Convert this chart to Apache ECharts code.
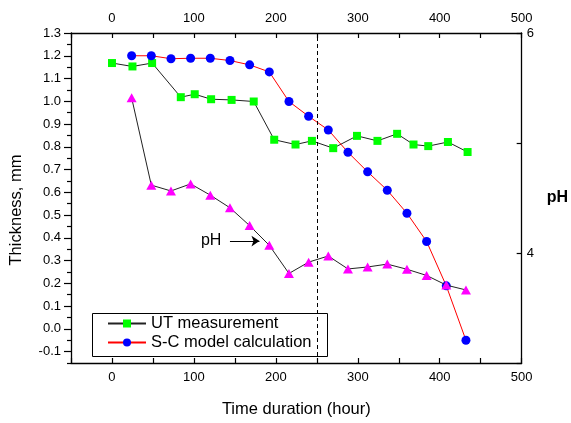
<!DOCTYPE html>
<html>
<head>
<meta charset="utf-8">
<script src="https://cdn.jsdelivr.net/npm/echarts@6/dist/echarts.min.js"></script>
<style>html,body{margin:0;padding:0;background:#fff;}#c{width:571px;height:423px;}</style>
</head>
<body>
<div id="c"></div>
<script>
// ---- data ----
const utHours = [0, 25, 49, 84, 101, 121, 146, 173, 198, 224, 244, 270, 299, 324, 348, 368, 386, 410, 434];
const utThickness = [1.168, 1.153, 1.168, 1.018, 1.031, 1.009, 1.006, 0.999, 0.831, 0.810, 0.826, 0.794, 0.848, 0.826, 0.857, 0.810, 0.803, 0.821, 0.777];
const modelHours = [24, 48, 72, 96, 120, 144, 168, 192, 216, 240, 264, 288, 312, 336, 360, 384, 408, 432];
const modelThickness = [1.200, 1.200, 1.187, 1.189, 1.189, 1.179, 1.160, 1.129, 0.999, 0.934, 0.874, 0.776, 0.690, 0.609, 0.508, 0.384, 0.189, -0.050];
const phValues = [5.411, 4.617, 4.564, 4.628, 4.526, 4.411, 4.249, 4.070, 3.814, 3.917, 3.973, 3.855, 3.873, 3.899, 3.852, 3.796, 3.708, 3.664];
const thicknessTicks = [-0.1, 0.0, 0.1, 0.2, 0.3, 0.4, 0.5, 0.6, 0.7, 0.8, 0.9, 1.0, 1.1, 1.2, 1.3];
const thicknessMinorTicks = [-0.15, -0.05, 0.05, 0.15, 0.25, 0.35, 0.45, 0.55, 0.65, 0.75, 0.85, 0.95, 1.05, 1.15, 1.25];
const hourLabels = [0, 100, 200, 300, 400, 500];
const phLabels = [4, 6];
const markerHour = 250;
const arrowStart = [144, 4.108];
const arrowEnd = [180, 4.108];
const arrowText = [121, 4.11];

const FONT = '"Liberation Sans", Arial, sans-serif';
const pair = (xs, ys) => xs.map((x, i) => [x, ys[i]]);

const chart = echarts.init(document.getElementById('c'), null, {renderer: 'canvas'});
const xCommon = {
  type: 'value', min: -50, max: 500, interval: 50,
  axisLine: {show: true, onZero: false, lineStyle: {color: '#000', width: 1.3}},
  axisTick: {show: true, inside: true, length: 5, lineStyle: {color: '#000', width: 1.2}},
  axisLabel: {
    color: '#000', fontSize: 13, fontFamily: FONT, margin: 8,
    formatter: v => hourLabels.indexOf(v) >= 0 ? String(v) : ''
  },
  splitLine: {show: false}
};
chart.setOption({
  animation: false,
  backgroundColor: '#fff',
  textStyle: {fontFamily: FONT},
  grid: {left: 70, right: 38, top: 33, bottom: 51, containLabel: false},
  xAxis: [
    Object.assign({}, xCommon, {
      position: 'bottom',
      name: 'Time duration (hour)', nameLocation: 'middle', nameGap: 38,
      nameTextStyle: {color: '#000', fontSize: 16.5, fontFamily: FONT}
    }),
    Object.assign({}, xCommon, {position: 'top'})
  ],
  yAxis: [
    {
      type: 'value', position: 'left', min: -0.15, max: 1.3,
      name: 'Thickness, mm', nameLocation: 'middle', nameGap: 46,
      nameTextStyle: {color: '#000', fontSize: 16.5, fontFamily: FONT, padding: [0, 24, 0, 0]},
      axisLine: {show: true, onZero: false, lineStyle: {color: '#000', width: 1.3}},
      axisTick: {show: true, inside: false, length: 7, customValues: thicknessTicks, lineStyle: {color: '#000', width: 1.2}},
      axisLabel: {color: '#000', fontSize: 13, fontFamily: FONT, margin: 10, customValues: thicknessTicks,
        formatter: v => v.toFixed(1)},
      splitLine: {show: false}
    },
    {
      type: 'value', position: 'right', min: 3, max: 6, interval: 1,
      name: 'pH', nameLocation: 'middle', nameGap: 25, nameRotate: 0,
      nameTextStyle: {color: '#000', fontSize: 16, fontWeight: 'bold', fontFamily: FONT},
      axisLine: {show: true, onZero: false, lineStyle: {color: '#000', width: 1.3}},
      axisTick: {show: true, inside: true, length: 5, lineStyle: {color: '#000', width: 1.2}},
      axisLabel: {color: '#000', fontSize: 13, fontFamily: FONT, margin: 5,
        formatter: v => phLabels.indexOf(v) >= 0 ? String(v) : ''},
      splitLine: {show: false}
    },
    {
      type: 'value', position: 'left', min: -0.15, max: 1.3,
      axisLine: {show: false, onZero: false},
      axisTick: {show: true, inside: false, length: 4, customValues: thicknessMinorTicks, lineStyle: {color: '#000', width: 1.2}},
      axisLabel: {show: false},
      splitLine: {show: false}
    }
  ],
  legend: {
    orient: 'vertical', left: 90, top: 311,
    padding: [3, 10, 2, 17], itemGap: 0,
    itemWidth: 38, itemHeight: 10,
    borderWidth: 0,
    textStyle: {color: '#000', fontSize: 16.5, fontFamily: FONT, lineHeight: 19},
    data: ['UT measurement', 'S-C model calculation']
  },
  graphic: [{
    type: 'rect', left: 90, top: 311, silent: true, z: 10,
    shape: {width: 235, height: 43},
    style: {fill: 'none', stroke: '#000', lineWidth: 1}
  }],
  series: [
    {
      name: 'UT measurement', type: 'line', xAxisIndex: 0, yAxisIndex: 0,
      data: pair(utHours, utThickness),
      symbol: 'rect', symbolSize: 8,
      itemStyle: {color: '#00ff00'},
      lineStyle: {color: '#222', width: 1},
      z: 3,
      markLine: {
        silent: true, symbol: ['none', 'none'], label: {show: false},
        lineStyle: {type: [4, 3], color: '#000', width: 1},
        data: [{xAxis: markerHour}]
      }
    },
    {
      name: 'S-C model calculation', type: 'line', xAxisIndex: 0, yAxisIndex: 0,
      data: pair(modelHours, modelThickness),
      symbol: 'circle', symbolSize: 9,
      itemStyle: {color: '#0000ff'},
      lineStyle: {color: '#ff0000', width: 1},
      z: 4
    },
    {
      name: 'pH', type: 'line', xAxisIndex: 0, yAxisIndex: 1,
      data: pair(modelHours, phValues),
      symbol: 'triangle', symbolSize: [10, 9],
      itemStyle: {color: '#ff00ff'},
      lineStyle: {color: '#222', width: 1},
      z: 5,
      markLine: {
        silent: true, symbol: ['none', 'arrow'], symbolSize: 8,
        label: {show: false},
        lineStyle: {type: 'solid', color: '#000', width: 1},
        data: [[{coord: arrowStart}, {coord: arrowEnd}]]
      },
      markPoint: {
        silent: true, symbol: 'rect', symbolSize: 1,
        itemStyle: {color: 'rgba(0,0,0,0)'},
        label: {show: true, formatter: 'pH', position: 'inside', color: '#000', fontSize: 16, fontFamily: FONT},
        data: [{coord: arrowText}]
      }
    }
  ]
});
</script>
</body>
</html>
